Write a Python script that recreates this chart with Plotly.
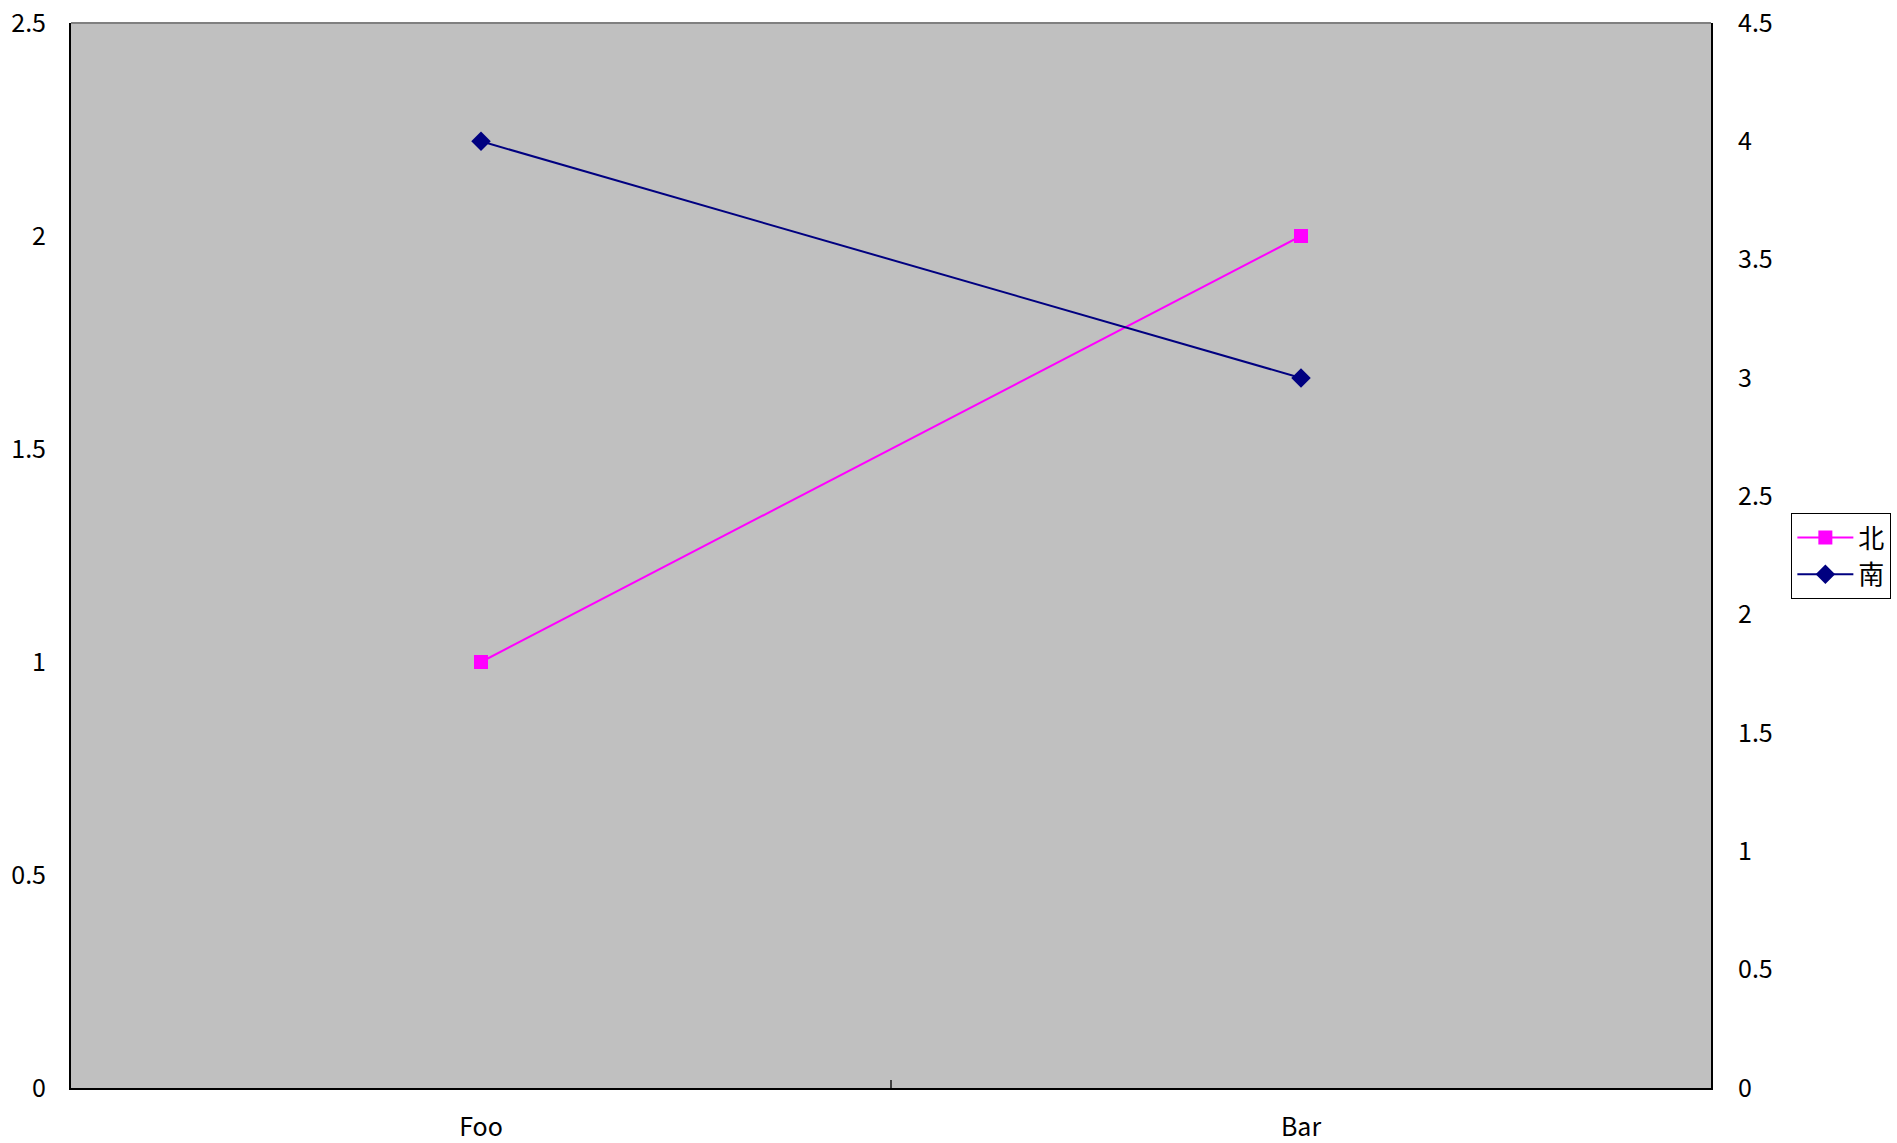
import plotly.graph_objects as go

categories = ["Foo", "Bar"]
north = [1, 2]
south = [4, 3]

FONT = "Noto Sans CJK JP, Noto Sans, sans-serif"

fig = go.Figure()
fig.add_trace(go.Scatter(
    x=categories, y=north, name="北", mode="lines+markers",
    line=dict(color="#FF00FF", width=2),
    marker=dict(symbol="square", size=14, color="#FF00FF"),
    yaxis="y", cliponaxis=False))
fig.add_trace(go.Scatter(
    x=categories, y=south, name="南", mode="lines+markers",
    line=dict(color="#000080", width=2),
    marker=dict(symbol="diamond", size=15, color="#000080"),
    yaxis="y2", cliponaxis=False))

TICKFONT = dict(family=FONT, size=25, color="black")

fig.update_layout(
    width=1897, height=1143,
    margin=dict(l=71, r=186, t=23, b=55, autoexpand=False),
    paper_bgcolor="white", plot_bgcolor="#C0C0C0",
    font=dict(family=FONT, size=25, color="black"),
    showlegend=True,
    legend=dict(x=1.049, y=0.4995, xanchor="left", yanchor="middle",
                bgcolor="white", bordercolor="black", borderwidth=1,
                font=dict(family=FONT, size=26, color="black"),
                tracegroupgap=0, itemwidth=56),
    xaxis=dict(type="category", range=[-0.5, 1.5], showgrid=False,
               showline=True, linecolor="black", linewidth=2,
               ticks="inside", tickson="boundaries", ticklen=8, tickcolor="#404040",
               tickwidth=2, zeroline=False, tickfont=TICKFONT,
               ticklabelstandoff=16, automargin=False),
    yaxis=dict(range=[0, 2.5], dtick=0.5, showgrid=False, showline=True,
               linecolor="black", linewidth=2, zeroline=False, ticks="",
               ticklabelstandoff=18, tickformat="~g", tickfont=TICKFONT,
               automargin=False),
    yaxis2=dict(range=[0, 4.5], dtick=0.5, overlaying="y", side="right",
                showgrid=False, showline=True, linecolor="black", linewidth=2,
                zeroline=False, ticks="", tickformat="~g", tickfont=TICKFONT,
                ticklabelstandoff=20, automargin=False),
    shapes=[dict(type="line", xref="paper", yref="paper", x0=0, x1=1, y0=1, y1=1,
                 line=dict(color="#808080", width=2))],
)

fig.write_html("out.html", config={"displayModeBar": False},
               post_script="document.body.style.margin='0';document.body.style.overflow='hidden';")
